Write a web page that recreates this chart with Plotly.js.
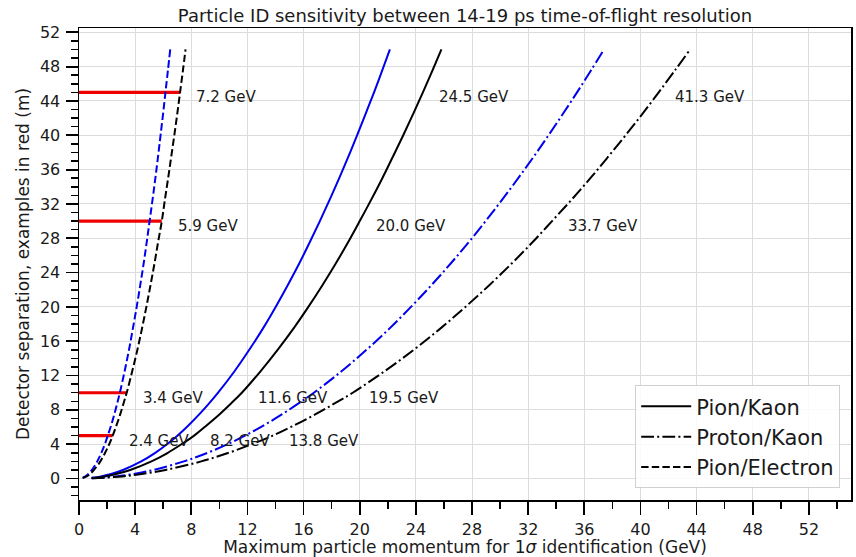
<!DOCTYPE html>
<html>
<head>
<meta charset="utf-8">
<script src="https://cdn.plot.ly/plotly-3.0.1.min.js"></script>
<style>
  html, body { margin: 0; padding: 0; background: #fff; }
  #chart { width: 856px; height: 557px; }
</style>
</head>
<body>
<div id="chart"></div>
<script>
// Detector separation (m) against the maximum momentum (GeV) giving 1-sigma ID.
// Black = 14 ps resolution, blue = 19 ps resolution.

// Separations (m) at which each curve's momentum is listed
const sepL = [0.25, 0.5, 1, 2, 3, 4, 5, 6.25, 7.5, 8.75, 10, 12.5, 15, 17.5, 20, 22.5, 25, 27.5, 30, 32.5, 35, 37.5, 40, 42.5, 45, 47.5, 50];

// Pion/Kaon
const pkBlackStart = [0.9, 0.06];
const pkBlackP = [1.83, 2.58, 3.65, 5.16, 6.33, 7.30, 8.2, 9.13, 10.02, 10.83, 11.6, 12.93, 14.15, 15.29, 16.34, 17.33, 18.27, 19.16, 20.0, 20.82, 21.61, 22.36, 23.10, 23.81, 24.5, 25.17, 25.82];
const pkBlueStart = [0.9, 0.08];
const pkBlueP  = [1.57, 2.22, 3.13, 4.43, 5.43, 6.27, 7.01, 7.83, 8.58, 9.27, 9.91, 11.08, 12.13, 13.11, 14.01, 14.86, 15.67, 16.43, 17.16, 17.86, 18.54, 19.19, 19.81, 20.42, 21.02, 21.59, 22.15];

// Proton/Kaon
const prkBlackStart = [0.9, 0.02];
const prkBlackP = [3.08, 4.35, 6.16, 8.71, 10.66, 12.31, 13.8, 15.39, 16.86, 18.21, 19.5, 21.77, 23.85, 25.76, 27.53, 29.21, 30.79, 32.29, 33.7, 35.10, 36.43, 37.70, 38.94, 40.14, 41.3, 42.43, 43.54];
const prkBlueStart = [0.9, 0.03];
const prkBlueP  = [2.64, 3.74, 5.29, 7.48, 9.16, 10.58, 11.83, 13.22, 14.48, 15.64, 16.73, 18.70, 20.48, 22.13, 23.65, 25.09, 26.45, 27.74, 28.97, 30.15, 31.29, 32.39, 33.45, 34.48, 35.48, 36.45, 37.40];

// Pion/Electron
const peBlackStart = [0.26, 0.06];
const peBlackP = [0.54, 0.76, 1.07, 1.52, 1.86, 2.15, 2.4, 2.68, 2.94, 3.17, 3.4, 3.79, 4.16, 4.49, 4.80, 5.09, 5.37, 5.63, 5.9, 6.12, 6.35, 6.57, 6.79, 7.00, 7.2, 7.40, 7.59];
const peBlueStart = [0.26, 0.08];
const peBlueP  = [0.46, 0.65, 0.92, 1.30, 1.59, 1.84, 2.05, 2.30, 2.52, 2.72, 2.91, 3.25, 3.56, 3.84, 4.11, 4.36, 4.60, 4.82, 5.03, 5.24, 5.44, 5.63, 5.81, 5.99, 6.16, 6.33, 6.50];

// Example separations and the momentum reached there (14 ps)
const exampleL    = [5, 10, 30, 45];
const examplePE   = [2.4, 3.4, 5.9, 7.2];
const examplePK   = [8.2, 11.6, 20.0, 24.5];
const examplePrK  = [13.8, 19.5, 33.7, 41.3];

const xTickVals = [0, 4, 8, 12, 16, 20, 24, 28, 32, 36, 40, 44, 48, 52];
const yTickVals = [0, 4, 8, 12, 16, 20, 24, 28, 32, 36, 40, 44, 48, 52];

const BLUE = '#0000ee';
const BLACK = '#000000';
const DASH = '7.4px,3.2px';
const DASHDOT = '12.8px,3.2px,2px,3.2px';
const FONT = 'DejaVu Sans';
const TEXT = '#1a1a1a';

const traces = [];

// red example bars from the axis to the Pion/Electron momentum
exampleL.forEach((L, i) => {
  traces.push({
    x: [0, examplePE[i]], y: [L, L],
    mode: 'lines', line: {color: '#ee0000', width: 3.2},
    showlegend: false, hoverinfo: 'skip'
  });
});

function curve(start, p, color, dash, name, show, rank) {
  return {
    x: [start[0]].concat(p), y: [start[1]].concat(sepL),
    mode: 'lines', name: name,
    line: {color: color, width: 2, dash: dash, shape: 'spline', smoothing: 1},
    showlegend: show, legendrank: rank, legendgroup: name
  };
}

traces.push(curve(peBlueStart, peBlueP, BLUE, DASH, 'Pion/Electron 19 ps', false, 10));
traces.push(curve(peBlackStart, peBlackP, BLACK, DASH, 'Pion/Electron', true, 3));
traces.push(curve(pkBlueStart, pkBlueP, BLUE, 'solid', 'Pion/Kaon 19 ps', false, 10));
traces.push(curve(pkBlackStart, pkBlackP, BLACK, 'solid', 'Pion/Kaon', true, 1));
traces.push(curve(prkBlueStart, prkBlueP, BLUE, DASHDOT, 'Proton/Kaon 19 ps', false, 10));
traces.push(curve(prkBlackStart, prkBlackP, BLACK, DASHDOT, 'Proton/Kaon', true, 2));

// momentum labels, placed just right of each example point
const annotations = [];
[examplePE, examplePK, examplePrK].forEach(arr => {
  arr.forEach((p, i) => {
    annotations.push({
      x: p + 1, y: exampleL[i], xref: 'x', yref: 'y',
      text: p.toFixed(1) + ' GeV', showarrow: false,
      xanchor: 'left', yanchor: 'middle', yshift: -5,
      font: {family: FONT, size: 15, color: TEXT}
    });
  });
});

const axisCommon = {
  showline: true, mirror: true, linecolor: '#000', linewidth: 1.5,
  ticks: 'outside', ticklen: 13, tickwidth: 1.8, tickcolor: '#000',
  showgrid: true, gridcolor: '#dcdcdc', gridwidth: 1,
  zeroline: false,
  tickfont: {family: FONT, size: 16, color: TEXT},
  tickmode: 'array'
};

const layout = {
  width: 856, height: 557,
  margin: {l: 79, r: 5, t: 28, b: 57},
  paper_bgcolor: '#fff', plot_bgcolor: '#fff',
  font: {family: FONT, color: TEXT},
  title: {
    text: 'Particle ID sensitivity between 14-19 ps time-of-flight resolution',
    x: 0.5, xref: 'paper', y: 1 - 16 / 557, yref: 'container', yanchor: 'middle',
    font: {family: FONT, size: 18, color: TEXT}
  },
  xaxis: Object.assign({}, axisCommon, {
    range: [0, 55], tickvals: xTickVals, ticklabelstandoff: 1,
    minor: {tickmode: 'linear', tick0: 0, dtick: 2, ticks: 'outside', ticklen: 7, tickwidth: 1.5, tickcolor: '#000', showgrid: false},
    title: {text: 'Maximum particle momentum for 1<i>σ</i> identification (GeV)', standoff: 4,
            font: {family: FONT, size: 17, color: TEXT}}
  }),
  yaxis: Object.assign({}, axisCommon, {
    range: [-2.5, 52.5], tickvals: yTickVals, ticklen: 12, ticklabelstandoff: 2,
    minor: {tickmode: 'linear', tick0: 0, dtick: 1, ticks: 'outside', ticklen: 7, tickwidth: 1.5, tickcolor: '#000', showgrid: false},
    title: {text: 'Detector separation, examples in red (m)', standoff: 6,
            font: {family: FONT, size: 17, color: TEXT}}
  }),
  legend: {
    x: 0.986, xanchor: 'right', y: 0.025, yanchor: 'bottom',
    bgcolor: 'rgba(255,255,255,0.85)', bordercolor: '#d0d0d0', borderwidth: 1,
    font: {family: FONT, size: 21, color: TEXT},
    traceorder: 'normal', tracegroupgap: 4, itemwidth: 50
  },
  annotations: annotations,
  showlegend: true
};

Plotly.newPlot('chart', traces, layout, {displayModeBar: false, staticPlot: true});
</script>
</body>
</html>
